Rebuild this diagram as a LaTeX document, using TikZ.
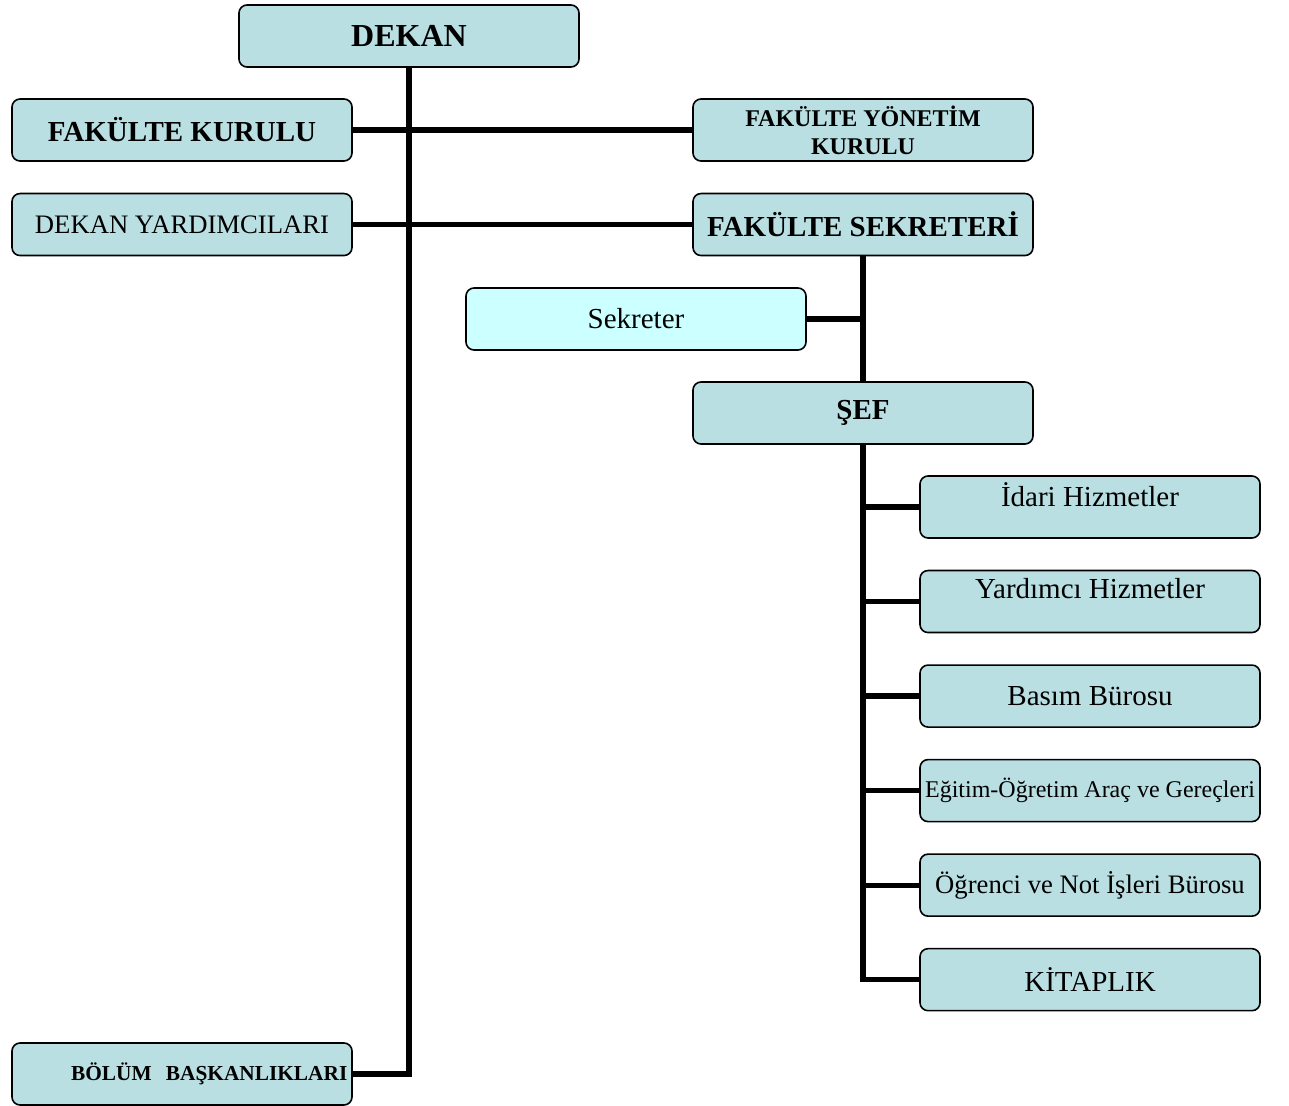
\documentclass[tikz,border=0pt]{standalone}
\usepackage{fontspec}
\setmainfont{Liberation Serif}
\usetikzlibrary{positioning}
\definecolor{unitfill}{RGB}{185,223,227}
\definecolor{sekfill}{RGB}{204,255,255}
\newcommand{\dekanfont}{\fontsize{24pt}{28pt}\selectfont\bfseries}
\newcommand{\unitbf}{\fontsize{21.75pt}{26pt}\selectfont\bfseries}
\newcommand{\unitrm}{\fontsize{21.75pt}{26pt}\selectfont}
\newcommand{\midrm}{\fontsize{20pt}{24pt}\selectfont}
\newcommand{\smallbf}{\fontsize{18pt}{21pt}\selectfont\bfseries}
\newcommand{\smallrm}{\fontsize{18pt}{21pt}\selectfont}
\newcommand{\tinybf}{\fontsize{16pt}{19pt}\selectfont\bfseries}
\tikzset{%
  unit/.style={rectangle,rounded corners=6pt,draw=black,line width=1.2pt,
    fill=unitfill,minimum width=255pt,minimum height=46.5pt,inner sep=1pt,
    align=center,font=\unitrm},
  link/.style={line width=3.9pt,line join=miter}
}

\begin{document}
\begin{tikzpicture}[x=0.75pt,y=-0.75pt,node distance=70.9pt]
    \useasboundingbox (0,0) rectangle (1289,1106);

    \node [unit,font=\dekanfont] (dekan) at (409,36) {DEKAN};
    \node [unit,font=\unitbf] (kurul) at (182,130) {FAKÜLTE KURULU};
    \node [unit,font=\midrm] (yard) [below of=kurul] {DEKAN YARDIMCILARI};
    \node [unit,font=\tinybf,text width=248pt,align=right] (bolum) at (182,1074)
      {BÖLÜM\ \ BAŞKANLIKLARI};

    \node [unit,font=\smallbf] (yonetim) at (863,130) {FAKÜLTE YÖNETİM\\KURULU};
    \node [unit,font=\unitbf] (sekr) [below of=yonetim] {FAKÜLTE SEKRETERİ};
    \node [unit,fill=sekfill] (sekreter) at (636,319) {Sekreter};
    \node [unit,font=\unitbf] (sef) at (863,413) {ŞEF};

    \node [unit,text depth=19pt] (idari) at (1090,507) {İdari Hizmetler};
    \node [unit,text depth=19pt] (yardimci) [below of=idari] {Yardımcı Hizmetler};
    \node [unit] (basim) [below of=yardimci] {Basım Bürosu};
    \node [unit,font=\smallrm] (arac) [below of=basim] {Eğitim-Öğretim Araç ve Gereçleri};
    \node [unit,font=\midrm] (ogrenci) [below of=arac] {Öğrenci ve Not İşleri Bürosu};
    \node [unit] (kitap) [below of=ogrenci] {KİTAPLIK};

    % baglantilar
    \draw [link] (dekan.south) |- (bolum.east);
    \draw [link] (kurul.east) -- (yonetim.west);
    \draw [link] (yard.east) -- (sekr.west);
    \draw [link] (sekr.south) -- (sef.north);
    \draw [link] (sekreter.east) -- (sekreter.east -| sekr.south);
    \draw [link] (sef.south) |- (kitap.west);
    \foreach \birim in {idari,yardimci,basim,arac,ogrenci}
      \draw [link] (\birim.west -| sef.south) -- (\birim.west);
\end{tikzpicture}
\end{document}
